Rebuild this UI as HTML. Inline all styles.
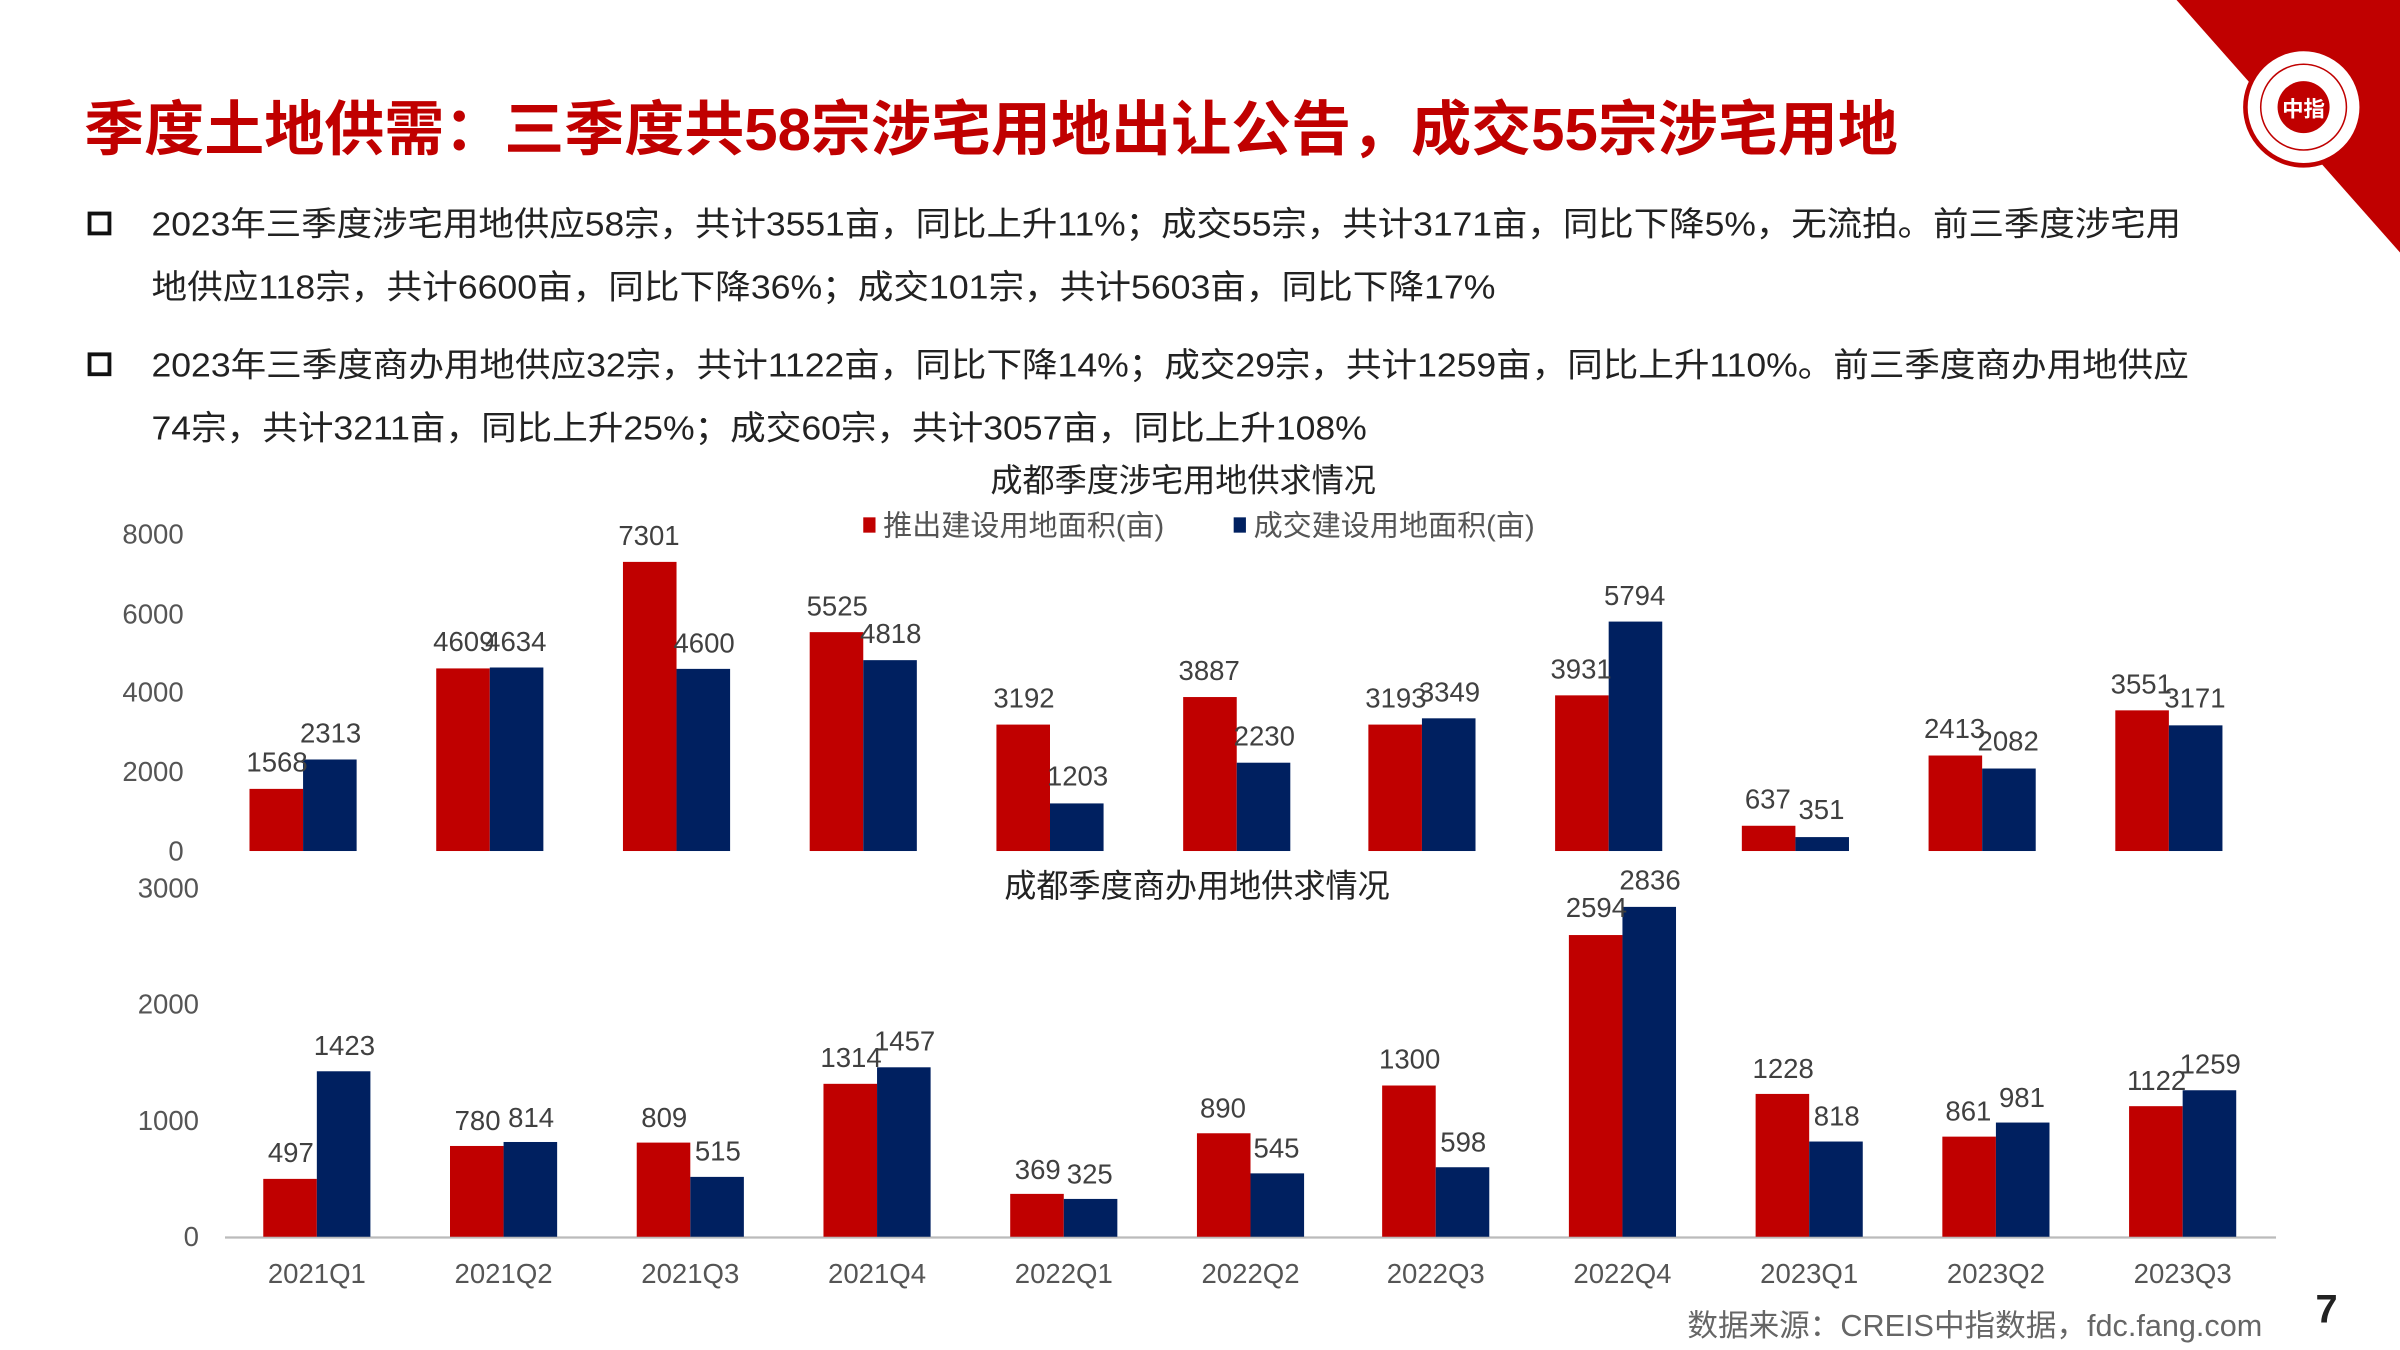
<!DOCTYPE html>
<html><head><meta charset="utf-8"><style>
html,body{margin:0;padding:0;background:#fff;width:2400px;height:1350px;overflow:hidden}
svg{display:block}
text{font-family:"Liberation Sans","Noto Sans CJK SC",sans-serif}
.t{fill:#222;font-size:22px}
.l{fill:#404040;font-size:18px;text-anchor:middle;dominant-baseline:central}
.ax{fill:#555;font-size:18px;text-anchor:end;dominant-baseline:central}
.xl{fill:#555;font-size:18px;text-anchor:middle;dominant-baseline:central}
</style></head><body>
<svg width="2400" height="1350" viewBox="0 0 1568 882" xmlns="http://www.w3.org/2000/svg">
<polygon points="1422,0 1568,0 1568,165" fill="#C00000"/>
<circle cx="1505" cy="70" r="38" fill="#fff" stroke="#C00000" stroke-width="3"/>
<circle cx="1505" cy="70" r="28" fill="none" stroke="#C00000" stroke-width="1"/>
<circle cx="1505" cy="70" r="17" fill="#C00000"/>
<text x="1505" y="76" font-size="14" fill="#fff" text-anchor="middle" font-weight="bold">中指</text>
<text x="55" y="98" font-size="39" font-weight="bold" fill="#C00000" textLength="1185" lengthAdjust="spacingAndGlyphs">季度土地供需：三季度共58宗涉宅用地出让公告，成交55宗涉宅用地</text>
<rect x="58.5" y="139.5" width="13" height="13" fill="none" stroke="#111" stroke-width="2.5"/>
<rect x="58.5" y="231.5" width="13" height="13" fill="none" stroke="#111" stroke-width="2.5"/>
<text class="t" x="99" y="154" textLength="1326" lengthAdjust="spacingAndGlyphs">2023年三季度涉宅用地供应58宗，共计3551亩，同比上升11%；成交55宗，共计3171亩，同比下降5%，无流拍。前三季度涉宅用</text>
<text class="t" x="99" y="195" textLength="878" lengthAdjust="spacingAndGlyphs">地供应118宗，共计6600亩，同比下降36%；成交101宗，共计5603亩，同比下降17%</text>
<text class="t" x="99" y="246" textLength="1331" lengthAdjust="spacingAndGlyphs">2023年三季度商办用地供应32宗，共计1122亩，同比下降14%；成交29宗，共计1259亩，同比上升110%。前三季度商办用地供应</text>
<text class="t" x="99" y="287" textLength="794" lengthAdjust="spacingAndGlyphs">74宗，共计3211亩，同比上升25%；成交60宗，共计3057亩，同比上升108%</text>

<text x="773" y="321" font-size="21" fill="#222" text-anchor="middle">成都季度涉宅用地供求情况</text>
<rect x="564" y="338" width="8" height="10" fill="#C00000"/>
<text x="577" y="350" font-size="19" fill="#555">推出建设用地面积(亩)</text>
<rect x="806" y="338" width="8" height="10" fill="#002060"/>
<text x="819" y="350" font-size="19" fill="#555">成交建设用地面积(亩)</text>
<text class="ax" x="120" y="349">8000</text>
<text class="ax" x="120" y="401">6000</text>
<text class="ax" x="120" y="452">4000</text>
<text class="ax" x="120" y="504">2000</text>
<text class="ax" x="120" y="556">0</text>
<g fill="#C00000">
<rect x="163" y="515.4" width="35" height="40.6"/><rect x="285" y="436.7" width="35" height="119.3"/><rect x="407" y="367.1" width="35" height="188.9"/><rect x="529" y="413" width="35" height="143"/><rect x="651" y="473.4" width="35" height="82.6"/><rect x="773" y="455.4" width="35" height="100.6"/><rect x="894" y="473.4" width="35" height="82.6"/><rect x="1016" y="454.3" width="35" height="101.7"/><rect x="1138" y="539.5" width="35" height="16.5"/><rect x="1260" y="493.6" width="35" height="62.4"/><rect x="1382" y="464.1" width="35" height="91.9"/>
</g>
<g fill="#002060">
<rect x="198" y="496.2" width="35" height="59.8"/><rect x="320" y="436.1" width="35" height="119.9"/><rect x="442" y="437" width="35" height="119"/><rect x="564" y="431.3" width="35" height="124.7"/><rect x="686" y="524.9" width="35" height="31.1"/><rect x="808" y="498.3" width="35" height="57.7"/><rect x="929" y="469.3" width="35" height="86.7"/><rect x="1051" y="406.1" width="35" height="149.9"/><rect x="1173" y="546.9" width="35" height="9.1"/><rect x="1295" y="502.1" width="35" height="53.9"/><rect x="1417" y="473.9" width="35" height="82.1"/>
</g>
<text class="l" x="181" y="498">1568</text><text class="l" x="216" y="479">2313</text>
<text class="l" x="303" y="419">4609</text><text class="l" x="337" y="419">4634</text>
<text class="l" x="424" y="350">7301</text><text class="l" x="460" y="420">4600</text>
<text class="l" x="547" y="396">5525</text><text class="l" x="582" y="414">4818</text>
<text class="l" x="669" y="456">3192</text><text class="l" x="704" y="507">1203</text>
<text class="l" x="790" y="438">3887</text><text class="l" x="826" y="481">2230</text>
<text class="l" x="912" y="456">3193</text><text class="l" x="947" y="452">3349</text>
<text class="l" x="1033" y="437">3931</text><text class="l" x="1068" y="389">5794</text>
<text class="l" x="1155" y="522">637</text><text class="l" x="1190" y="529">351</text>
<text class="l" x="1277" y="476">2413</text><text class="l" x="1312" y="484">2082</text>
<text class="l" x="1399" y="447">3551</text><text class="l" x="1434" y="456">3171</text>

<text x="782" y="586" font-size="21" fill="#222" text-anchor="middle">成都季度商办用地供求情况</text>
<text class="ax" x="130" y="580">3000</text>
<text class="ax" x="130" y="656">2000</text>
<text class="ax" x="130" y="732">1000</text>
<text class="ax" x="130" y="808">0</text>
<line x1="147" y1="808.5" x2="1487" y2="808.5" stroke="#bbb" stroke-width="1.5"/>
<g fill="#C00000">
<rect x="172" y="770.2" width="35" height="37.8"/><rect x="294" y="748.7" width="35" height="59.3"/><rect x="416" y="746.5" width="35" height="61.5"/><rect x="538" y="708.1" width="35" height="99.9"/><rect x="660" y="780" width="35" height="28"/><rect x="782" y="740.4" width="35" height="67.6"/><rect x="903" y="709.2" width="35" height="98.8"/><rect x="1025" y="610.9" width="35" height="197.1"/><rect x="1147" y="714.7" width="35" height="93.3"/><rect x="1269" y="742.6" width="35" height="65.4"/><rect x="1391" y="722.7" width="35" height="85.3"/>
</g>
<g fill="#002060">
<rect x="207" y="699.9" width="35" height="108.1"/><rect x="329" y="746.1" width="35" height="61.9"/><rect x="451" y="768.9" width="35" height="39.1"/><rect x="573" y="697.3" width="35" height="110.7"/><rect x="695" y="783.3" width="35" height="24.7"/><rect x="817" y="766.6" width="35" height="41.4"/><rect x="938" y="762.6" width="35" height="45.4"/><rect x="1060" y="592.5" width="35" height="215.5"/><rect x="1182" y="745.8" width="35" height="62.2"/><rect x="1304" y="733.4" width="35" height="74.6"/><rect x="1426" y="712.3" width="35" height="95.7"/>
</g>
<text class="l" x="190" y="753">497</text><text class="l" x="225" y="683">1423</text>
<text class="l" x="312" y="732">780</text><text class="l" x="347" y="730">814</text>
<text class="l" x="434" y="730">809</text><text class="l" x="469" y="752">515</text>
<text class="l" x="556" y="691">1314</text><text class="l" x="591" y="680">1457</text>
<text class="l" x="678" y="764">369</text><text class="l" x="712" y="767">325</text>
<text class="l" x="799" y="724">890</text><text class="l" x="834" y="750">545</text>
<text class="l" x="921" y="692">1300</text><text class="l" x="956" y="746">598</text>
<text class="l" x="1043" y="593">2594</text><text class="l" x="1078" y="575">2836</text>
<text class="l" x="1165" y="698">1228</text><text class="l" x="1200" y="729">818</text>
<text class="l" x="1286" y="726">861</text><text class="l" x="1321" y="717">981</text>
<text class="l" x="1409" y="706">1122</text><text class="l" x="1444" y="695">1259</text>
<text class="xl" x="207" y="832">2021Q1</text><text class="xl" x="329" y="832">2021Q2</text><text class="xl" x="451" y="832">2021Q3</text><text class="xl" x="573" y="832">2021Q4</text><text class="xl" x="695" y="832">2022Q1</text><text class="xl" x="817" y="832">2022Q2</text><text class="xl" x="938" y="832">2022Q3</text><text class="xl" x="1060" y="832">2022Q4</text><text class="xl" x="1182" y="832">2023Q1</text><text class="xl" x="1304" y="832">2023Q2</text><text class="xl" x="1426" y="832">2023Q3</text>
<text x="1478" y="873" font-size="20" fill="#666" text-anchor="end">数据来源：CREIS中指数据，fdc.fang.com</text>
<text x="1520" y="864" font-size="26" font-weight="bold" fill="#222" text-anchor="middle">7</text>
</svg>
</body></html>
